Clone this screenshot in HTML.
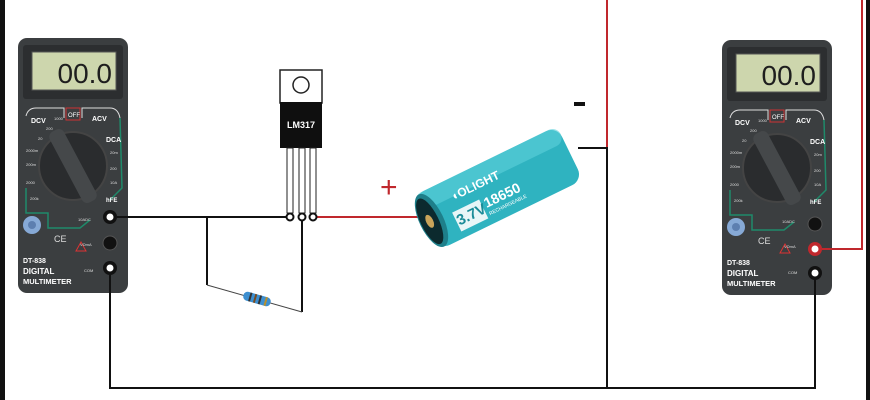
<!DOCTYPE html>
<html><head><meta charset="utf-8"><style>html,body{margin:0;padding:0;background:#fff;}svg{display:block}</style></head>
<body>
<svg width="870" height="400" viewBox="0 0 870 400" xmlns="http://www.w3.org/2000/svg" font-family="Liberation Sans, sans-serif">
<defs>
<g id="meter">
  <rect x="0" y="0" width="110" height="255" rx="9" fill="#3b3e40"/>
  <rect x="5" y="7" width="100" height="54" rx="3" fill="#2c2e30"/>
  <rect x="14" y="14" width="84" height="38" fill="#cdd6ad" stroke="#555" stroke-width="1"/>
  <text x="94" y="45" text-anchor="end" font-size="28" fill="#1e1e1e" font-family="Liberation Sans, sans-serif" transform="translate(0 0)">00.0</text>
  <path d="M8 78 Q10 70 18 70 L46 70 L46 80 M64 80 L64 70 L92 70 Q100 70 102 80" fill="none" stroke="#ddd" stroke-width="1"/>
  <path d="M102 80 L104 150 L92 162 M8 150 L8 175 L30 175 L30 190 L62 190 L72 182" fill="none" stroke="#1f8a6a" stroke-width="1.5"/>
  <rect x="48" y="70" width="14" height="12" fill="none" stroke="#c33" stroke-width="1"/>
  <text x="50" y="79" font-size="6" fill="#fff">OFF</text>
  <text x="13" y="85" font-size="7" font-weight="bold" fill="#fff">DCV</text>
  <text x="74" y="83" font-size="7" font-weight="bold" fill="#fff">ACV</text>
  <text x="88" y="104" font-size="7" font-weight="bold" fill="#fff">DCA</text>
  <text x="88" y="164" font-size="6" font-weight="bold" fill="#fff">hFE</text>
  <g fill="#ddd" font-size="4">
    <text x="36" y="82">1000</text><text x="28" y="92">200</text><text x="20" y="102">20</text>
    <text x="8" y="114">2000m</text><text x="8" y="128">200m</text><text x="8" y="146">2000</text>
    <text x="12" y="162">200k</text><text x="92" y="116">20m</text><text x="92" y="132">200</text><text x="92" y="146">10A</text>
  </g>
  <circle cx="55" cy="128" r="34" fill="#2a2c2e"/>
  <circle cx="55" cy="128" r="34" fill="none" stroke="#444" stroke-width="2"/>
  <rect x="47" y="88" width="16" height="80" rx="6" fill="#45484a" transform="rotate(-28 55 128)"/>
  <circle cx="14" cy="187" r="9" fill="#86a9d6"/>
  <circle cx="14" cy="187" r="4" fill="#5d7fb0"/>
  <text x="36" y="204" font-size="9" fill="#ddd">CE</text>
  <text x="5" y="225" font-size="7" font-weight="bold" fill="#fff">DT-838</text>
  <text x="5" y="236" font-size="8" font-weight="bold" fill="#fff">DIGITAL</text>
  <text x="5" y="246" font-size="7.5" font-weight="bold" fill="#fff">MULTIMETER</text>
  <path d="M58 213 l5 -9 l5 9 z" fill="none" stroke="#d33" stroke-width="1"/>
  <text x="60" y="183" font-size="4" fill="#ddd">10ADC</text>
  <text x="62" y="208" font-size="4" fill="#ddd">VΩmA</text>
  <text x="66" y="234" font-size="4" fill="#ddd">COM</text>
</g>
</defs>

<rect x="0" y="0" width="5" height="400" fill="#111"/>
<rect x="866" y="0" width="4" height="400" fill="#111"/>

<use href="#meter" x="18" y="38"/>
<circle cx="110" cy="243" r="7" fill="#111" stroke="#555" stroke-width="1"/>
<circle cx="110" cy="217" r="7" fill="#111"/><circle cx="110" cy="217" r="3.5" fill="#fff"/>
<circle cx="110" cy="268" r="7" fill="#111"/><circle cx="110" cy="268" r="3.5" fill="#fff"/>

<use href="#meter" x="722" y="40"/>
<circle cx="815" cy="224" r="7" fill="#111" stroke="#555" stroke-width="1"/>
<circle cx="815" cy="249" r="7" fill="#c0282d"/><circle cx="815" cy="249" r="3.5" fill="#fff"/>
<circle cx="815" cy="273" r="7" fill="#111"/><circle cx="815" cy="273" r="3.5" fill="#fff"/>

<g fill="none" stroke-width="2">
  <path d="M117 217 L287 217" stroke="#111"/>
  <path d="M207 217 L207 285" stroke="#111"/>
  <path d="M302 220 L302 312" stroke="#111"/>
  <path d="M207 285 L302 312" stroke="#444" stroke-width="1"/>
  <path d="M316 217 L420 217" stroke="#c0282d"/>
  <path d="M110 275 L110 388 L815 388 L815 280" stroke="#111"/>
  <path d="M607 0 L607 148" stroke="#c0282d"/>
  <path d="M578 148 L607 148 L607 388" stroke="#111"/>
  <path d="M862 0 L862 249 L822 249" stroke="#c0282d"/>
</g>

<g transform="translate(257 299) rotate(16)">
  <rect x="-14" y="-4.5" width="28" height="9" rx="4" fill="#3d8fd0"/>
  <rect x="-8" y="-4.5" width="2" height="9" fill="#333"/>
  <rect x="-3" y="-4.5" width="2" height="9" fill="#7a4b1f"/>
  <rect x="2" y="-4.5" width="2" height="9" fill="#333"/>
  <rect x="8" y="-4.5" width="2" height="9" fill="#b8902d"/>
</g>

<rect x="280" y="70" width="42" height="33" fill="#fff" stroke="#222" stroke-width="1.5"/>
<circle cx="301" cy="85" r="8" fill="#fff" stroke="#222" stroke-width="1.5"/>
<rect x="280" y="102" width="42" height="46" fill="#0f0f0f"/>
<text x="301" y="128" text-anchor="middle" font-size="9" font-weight="bold" fill="#fff">LM317</text>
<g fill="#fff" stroke="#222" stroke-width="1">
  <rect x="287" y="148" width="6" height="65"/>
  <rect x="299" y="148" width="6" height="65"/>
  <rect x="310" y="148" width="6" height="65"/>
</g>
<g fill="#fff" stroke="#111" stroke-width="2">
  <circle cx="290" cy="217" r="3.5"/><circle cx="302" cy="217" r="3.5"/><circle cx="313" cy="217" r="3.5"/>
</g>

<g transform="translate(498 188) rotate(-26)">
  <rect x="-80" y="-30" width="160" height="60" rx="12" fill="#2fb3c0"/>
  <rect x="-80" y="-30" width="160" height="18" rx="9" fill="#5fd0da" opacity="0.6"/>
  <ellipse cx="-74" cy="0" rx="12" ry="29" fill="#1e7f8a"/>
  <ellipse cx="-76" cy="0" rx="9" ry="25" fill="#0c2a2e"/>
  <ellipse cx="-76" cy="0" rx="3.5" ry="7" fill="#c9a45a"/>
  <rect x="-52" y="2" width="30" height="21" fill="#e8f6f7"/>
  <text x="-51" y="17" font-size="15" font-weight="bold" fill="#1b8c98">3.7V</text>
  <text x="-19" y="13" font-size="14" font-weight="bold" fill="#fff">18650</text>
  <text x="-19" y="21" font-size="5" fill="#fff">RECHARGEABLE</text>
  <text x="-46" y="-8" font-size="12" font-weight="bold" fill="#fff">◖OLIGHT</text>
</g>
<text x="380" y="197" font-size="30" fill="#c0282d">+</text>
<rect x="574" y="102" width="11" height="4" fill="#111"/>
</svg>
</body></html>
